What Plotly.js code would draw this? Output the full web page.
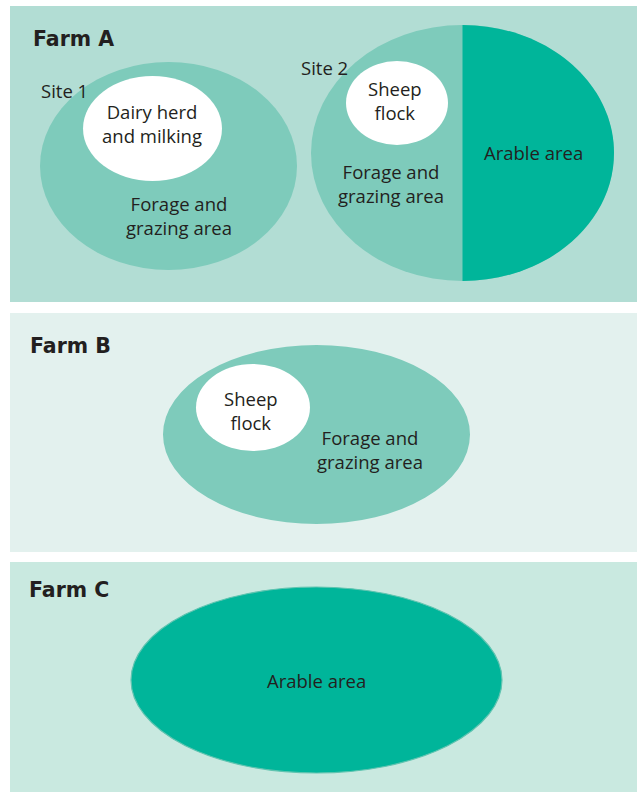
<!DOCTYPE html>
<html>
<head>
<meta charset="utf-8">
<script src="https://cdn.plot.ly/plotly-3.0.1.min.js"></script>
<style>html,body{margin:0;padding:0;background:#fff}#chart{width:638px;height:794px}</style>
</head>
<body>
<div id="chart"></div>
<script>
// Panels: [x0, y0, x1, y1]
var panelNames = ["Farm A", "Farm B", "Farm C"];
var panelBoxes = [[10, 6, 637, 302], [10, 313, 637, 552], [10, 562, 637, 792]];
var panelColors = ["#b2ddd4", "#e3f1ee", "#c9e9e0"];

// Areas (ellipses): [x0, y0, x1, y1]
var areaBoxes = [
  [40, 62, 297, 270],   // Site 1 forage
  [83, 76, 222, 181],   // Dairy herd
  [311, 25, 614, 281],  // Site 2 forage
  [346, 61, 448, 145],  // Site 2 sheep
  [163, 345, 470, 524], // Farm B forage
  [196, 364, 310, 451], // Farm B sheep
  [131, 587, 502, 773]  // Farm C arable
];
var areaColors = ["#7ecbbb", "#ffffff", "#7ecbbb", "#ffffff", "#7ecbbb", "#ffffff", "#00b59a"];
var areaLines = [0, 0, 0, 0, 0, 0, 1.2];

// Arable half of site 2 (right half of the site 2 ellipse)
var halfIndex = 2;
var halfColor = "#00b59a";

// Labels: text, centre x, centre y
var labelTexts = ["Site 1", "Site 2", "Dairy herd<br>and milking", "Forage and<br>grazing area",
  "Sheep<br>flock", "Forage and<br>grazing area", "Arable area",
  "Sheep<br>flock", "Forage and<br>grazing area", "Arable area"];
var labelX = [64, 324, 152, 179, 395, 391, 533, 251, 370, 316];
var labelY = [90, 67, 123, 215, 100, 183, 152, 410, 449, 680];
var titleX = [31, 28, 27];
var titleY = [39, 346, 590];

var shapes = [];
panelBoxes.forEach(function (b, i) {
  shapes.push({type: "rect", xref: "x", yref: "y", x0: b[0], y0: b[1], x1: b[2], y1: b[3],
    fillcolor: panelColors[i], line: {width: 0}, layer: "below"});
});
areaBoxes.forEach(function (b, i) {
  shapes.push({type: "circle", xref: "x", yref: "y", x0: b[0], y0: b[1], x1: b[2], y1: b[3],
    fillcolor: areaColors[i], line: {width: areaLines[i], color: "#5fc4b0"}});
  if (i === halfIndex) {
    var cx = (b[0] + b[2]) / 2, cy = (b[1] + b[3]) / 2, rx = (b[2] - b[0]) / 2, ry = (b[3] - b[1]) / 2, k = 0.5523;
    var p = "M" + cx + "," + (cy - ry) +
      " C" + (cx + k * rx) + "," + (cy - ry) + " " + (cx + rx) + "," + (cy - k * ry) + " " + (cx + rx) + "," + cy +
      " C" + (cx + rx) + "," + (cy + k * ry) + " " + (cx + k * rx) + "," + (cy + ry) + " " + cx + "," + (cy + ry) + " Z";
    shapes.push({type: "path", xref: "x", yref: "y", path: p, fillcolor: halfColor, line: {width: 0}});
  }
});

var annotations = [];
labelTexts.forEach(function (t, i) {
  annotations.push({x: labelX[i], y: labelY[i], xref: "x", yref: "y",
    text: t, showarrow: false, font: {family: "Open Sans", size: 18.5, color: "#231f20"}, align: "center"});
});
panelNames.forEach(function (t, i) {
  annotations.push({x: titleX[i], y: titleY[i], xref: "x", yref: "y", text: "<b>" + t + "</b>", showarrow: false,
    xanchor: "left", font: {family: "DejaVu Sans", size: 20.5, color: "#231f20"}});
});

var layout = {
  width: 638, height: 794,
  margin: {l: 0, r: 0, t: 0, b: 0},
  paper_bgcolor: "#ffffff", plot_bgcolor: "#ffffff",
  xaxis: {range: [0, 638], visible: false, fixedrange: true},
  yaxis: {range: [794, 0], visible: false, fixedrange: true},
  shapes: shapes, annotations: annotations, showlegend: false
};
Plotly.newPlot("chart", [], layout, {displayModeBar: false, staticPlot: true});
</script>
</body>
</html>
